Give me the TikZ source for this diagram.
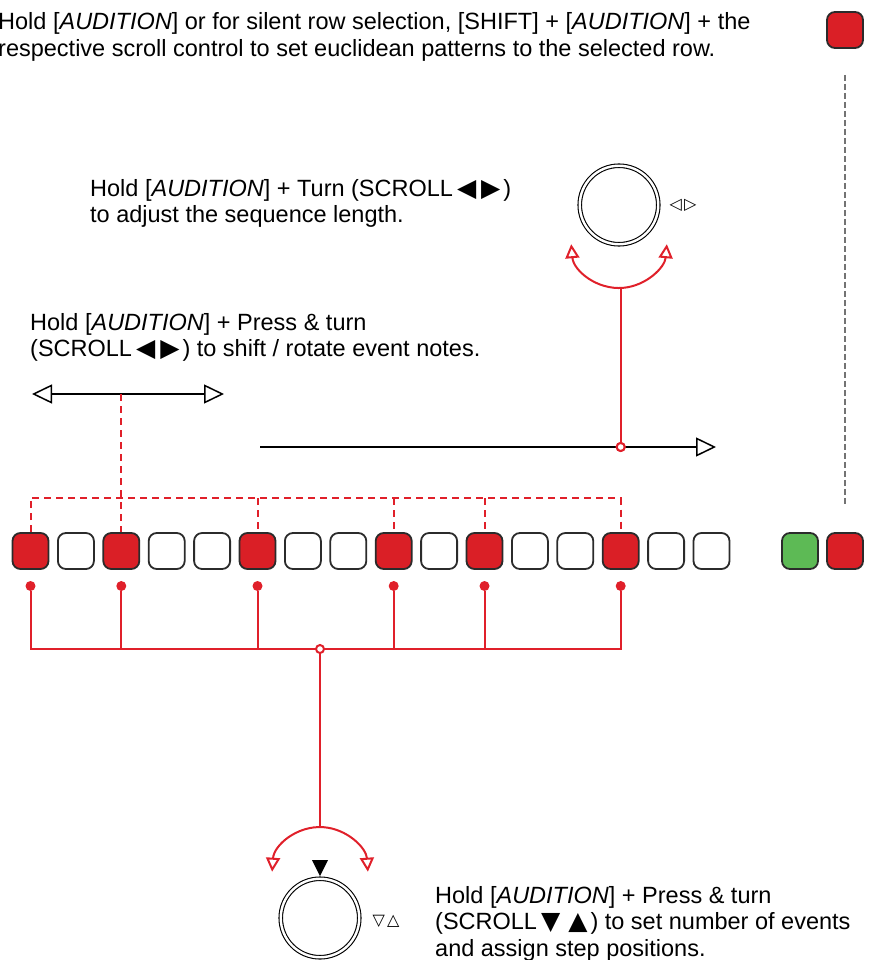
\documentclass[tikz,border=0pt]{standalone}
\usepackage{fontspec}
\setmainfont{Liberation Sans}
\newfontfamily\symfont{DejaVu Sans}
\usepackage{tikz}
\usepackage{xcolor}
\usetikzlibrary{arrows.meta,positioning}
\definecolor{padred}{HTML}{DA1F26}
\definecolor{padgreen}{HTML}{5DBA55}
\definecolor{padline}{HTML}{2B2B2B}
\definecolor{wire}{HTML}{E0202A}
\newcommand{\tri}[1]{{\symfont\fontsize{25}{25}\selectfont#1}}

\begin{document}
\begin{tikzpicture}[x=1pt,y=-1pt,>={Triangle[open,length=20,width=19]},
 p/.style={draw=padline,line width=1.8,rounded corners=8,minimum size=36,inner sep=0,fill=white},
 r/.style={p,fill=padred},g/.style={p,fill=padgreen},
 k/.style={circle,draw,double,double distance=2.4,line width=1.1,minimum size=78.5,inner sep=0},
 t/.style={font=\fontsize{23.5}{26.5}\selectfont,align=left,inner sep=0,anchor=base west},
 s/.style={font=\symfont\fontsize{16}{16}\selectfont,inner sep=0},
 a/.style={line width=1.5},
 ra/.style={draw=wire,line width=2,{Triangle[open,length=14,width=14]}-{Triangle[open,length=14,width=14]}},
 w/.style={draw=wire,line width=2},
 wd/.style={w,dash pattern=on 7 off 5},
 gd/.style={draw=black!55,line width=1.4,dash pattern=on 6 off 3},
 dot/.style={circle,fill=wire,minimum size=10,inner sep=0},
 j/.style={circle,draw=wire,line width=2,fill=white,minimum size=8,inner sep=0}]
 \useasboundingbox (0,0) rectangle (870,960);
 \node[t] (top) at (-2,56.5) {Hold [\textit{AUDITION}] or for silent row selection, [SHIFT] + [\textit{AUDITION}] + the\\respective scroll control to set euclidean patterns to the selected row.};
 \node[t] (len) at (90,222.5) {Hold [\textit{AUDITION}] + Turn (SCROLL\kern4pt\tri{◀\kern5pt▶}\kern3pt)\\to adjust the sequence length.};
 \node[t] (rot) at (30,356.5) {Hold [\textit{AUDITION}] + Press \& turn\\(SCROLL\kern4pt\tri{◀\kern5pt▶}\kern3pt) to shift / rotate event notes.};
 \node[t] (num) at (435,956) {Hold [\textit{AUDITION}] + Press \& turn\\(SCROLL\kern4pt\tri{▼\kern8pt▲}\kern3pt) to set number of events\\and assign step positions.};
 \node[r] (s1) at (30.5,551) {};
 \node[p] (s2) at (75.9,551) {};
 \node[r] (s3) at (121.3,551) {};
 \node[p] (s4) at (166.7,551) {};
 \node[p] (s5) at (212.1,551) {};
 \node[r] (s6) at (257.5,551) {};
 \node[p] (s7) at (302.9,551) {};
 \node[p] (s8) at (348.3,551) {};
 \node[r] (s9) at (393.7,551) {};
 \node[p] (s10) at (439.1,551) {};
 \node[r] (s11) at (484.5,551) {};
 \node[p] (s12) at (529.9,551) {};
 \node[p] (s13) at (575.3,551) {};
 \node[r] (s14) at (620.7,551) {};
 \node[p] (s15) at (666.1,551) {};
 \node[p] (s16) at (711.5,551) {};
 \node[g] (play) at (800,551) {};
 \node[r] (rec) at (845,551) {};
 \node[r] (sel) at (845,30) {};
 \draw[gd] ([yshift=-26pt]sel.south) -- ([yshift=27pt]rec.north);
 \coordinate (bus) at (0,498);
 \coordinate (sl) at (32,394);
 \coordinate (sr) at (224,394);
 \draw[a,<->] (sl) -- (sr);
 \draw[wd] (s3.north |- sl) -- (s3.north);
 \draw[wd] (s1.north) |- (s14.north |- bus) -- (s14.north);
 \draw[wd] (s6.north |- bus) -- (s6.north);
 \draw[wd] (s9.north |- bus) -- (s9.north);
 \draw[wd] (s11.north |- bus) -- (s11.north);
 \coordinate (ll) at (260,447);
 \coordinate (lr) at (716,447);
 \draw[a,->] (ll) -- (lr);
 \node[k] (k1) at (619,205) {};
 \node[s] (k1l) at (683,205) {◁\kern2pt▷};
 \coordinate (a1) at (571.2,244.2);
 \coordinate (a1b) at (620.7,288);
 \draw[ra] (a1) arc[start angle=175,end angle=5,radius=48];
 \node[j] (jl) at (s14 |- ll) {};
 \draw[w] (jl) -- (a1b);
 \node[j] (jl) at (s14 |- ll) {};
 \node[dot] (d1) at (30.5,586) {};
 \node[dot] (d3) at (121.3,586) {};
 \node[dot] (d6) at (257.5,586) {};
 \node[dot] (d9) at (393.7,586) {};
 \node[dot] (d11) at (484.5,586) {};
 \node[dot] (d14) at (620.7,586) {};
 \coordinate (jb0) at (320,649);
 \draw[w] (d1) |- (jb0) -| (d14);
 \draw[w] (d3) -- (d3 |- jb0);
 \draw[w] (d6) -- (d6 |- jb0);
 \draw[w] (d9) -- (d9 |- jb0);
 \draw[w] (d11) -- (d11 |- jb0);
 \node[k] (k2) at (320,918) {};
 \node[s] (k2l) at (386,921) {▽\kern2pt△};
 \fill (312,860) -- (328,860) -- (320,876) -- cycle;
 \coordinate (a2) at (272.1,871.7);
 \coordinate (a2t) at (320,827);
 \draw[w] (jb0) -- (a2t);
 \draw[ra] (a2) arc[start angle=184,end angle=356,radius=48];
 \node[j] (jb) at (jb0) {};
\end{tikzpicture}
\end{document}
